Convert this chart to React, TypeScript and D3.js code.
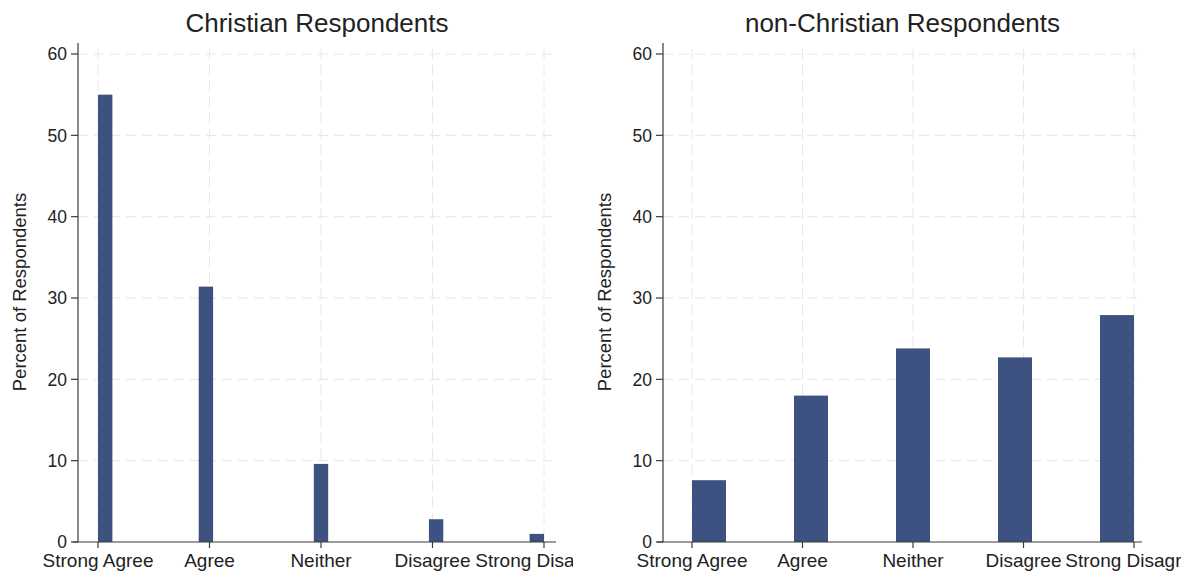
import React from "react";
import * as d3 from "d3";

const categories = ["Strong Agree", "Agree", "Neither", "Disagree", "Strong Disagree"];
const categoryValues = [1, 2, 3, 4, 5];
const christianPercent = [55.0, 31.4, 9.6, 2.8, 1.0];
const nonChristianPercent = [7.6, 18.0, 23.8, 22.7, 27.9];
const yTicks = [0, 10, 20, 30, 40, 50, 60];
const christianBins = 31;
const nonChristianBins = 13;

const FONT = "'Liberation Sans', Arial, Helvetica, sans-serif";
const BAR = "#3d5281";
const AXIS = "#3a3a3a";
const GRID = "#e6e6e6";
const TEXT = "#222";

type PanelProps = {
  id: string;
  title: string;
  values: number[];
  nBins: number;
  axisX: number;
  xLineStart: number;
  xLineEnd: number;
  tickStart: number;
  tickEnd: number;
  clipLeft: number;
  clipRight: number;
};

const Y0 = 542;
const Y60 = 54;
const AXIS_TOP = 43;

function Panel(p: PanelProps) {
  const x = d3.scaleLinear().domain([1, 5]).range([p.tickStart, p.tickEnd]);
  const y = d3.scaleLinear().domain([0, 60]).range([Y0, Y60]);
  const w = 4 / p.nBins;
  const bars = categoryValues.map((v, i) => {
    const bi = Math.min(Math.floor((v - 1) / w + 1e-9), p.nBins - 1);
    const b0 = 1 + bi * w;
    return { x0: x(b0), x1: x(b0 + w), top: y(p.values[i]) };
  });
  const titleX = (p.axisX + p.xLineEnd) / 2;
  return (
    <g>
      <defs>
        <clipPath id={p.id}>
          <rect x={p.clipLeft} y={0} width={p.clipRight - p.clipLeft} height={572} />
        </clipPath>
      </defs>
      <g clipPath={`url(#${p.id})`}>
        {yTicks.filter((t) => t > 0).map((t) => (
          <line key={"gy" + t} x1={p.axisX} x2={p.xLineEnd} y1={y(t)} y2={y(t)}
            stroke={GRID} strokeWidth={1} strokeDasharray="10,6" />
        ))}
        {categoryValues.map((v) => (
          <line key={"gx" + v} x1={x(v)} x2={x(v)} y1={AXIS_TOP + 6} y2={Y0}
            stroke={GRID} strokeWidth={1} strokeDasharray="10,6" />
        ))}
        {bars.map((b, i) => (
          <rect key={"b" + i} x={b.x0} y={b.top} width={b.x1 - b.x0} height={Y0 - b.top} fill={BAR} />
        ))}
        <line x1={p.axisX} x2={p.axisX} y1={AXIS_TOP} y2={Y0} stroke={AXIS} strokeWidth={1.2} />
        <line x1={p.xLineStart} x2={p.xLineEnd} y1={Y0} y2={Y0} stroke={AXIS} strokeWidth={1.2} />
        {yTicks.map((t) => (
          <g key={"yt" + t}>
            <line x1={p.axisX - 7} x2={p.axisX} y1={y(t)} y2={y(t)} stroke={AXIS} strokeWidth={1.2} />
            <text x={p.axisX - 11} y={y(t)} dy="0.36em" textAnchor="end" fontFamily={FONT}
              fontSize={17.5} fill={TEXT}>{t}</text>
          </g>
        ))}
        {categoryValues.map((v, i) => (
          <g key={"xt" + v}>
            <line x1={x(v)} x2={x(v)} y1={Y0} y2={Y0 + 6} stroke={AXIS} strokeWidth={1.2} />
            <text x={x(v)} y={567} textAnchor="middle" fontFamily={FONT} fontSize={19}
              fill={TEXT}>{categories[i]}</text>
          </g>
        ))}
        <text transform={`translate(${p.axisX - 52},292) rotate(-90)`} textAnchor="middle"
          fontFamily={FONT} fontSize={18.5} fill={TEXT}>Percent of Respondents</text>
        <text x={titleX} y={32} textAnchor="middle" fontFamily={FONT} fontSize={26}
          fill={TEXT}>{p.title}</text>
      </g>
    </g>
  );
}

export default function App() {
  return (
    <svg width={1184} height={572} style={{ position: "absolute", left: 0, top: 0, background: "#fff" }}>
      <rect x={0} y={0} width={1184} height={572} fill="#fff" />
      <Panel id="clipL" title="Christian Respondents" values={christianPercent} nBins={christianBins}
        axisX={78} xLineStart={73} xLineEnd={556} tickStart={98} tickEnd={544} clipLeft={0} clipRight={573} />
      <Panel id="clipR" title="non-Christian Respondents" values={nonChristianPercent} nBins={nonChristianBins}
        axisX={663} xLineStart={657} xLineEnd={1142} tickStart={692} tickEnd={1134} clipLeft={585} clipRight={1181} />
    </svg>
  );
}
